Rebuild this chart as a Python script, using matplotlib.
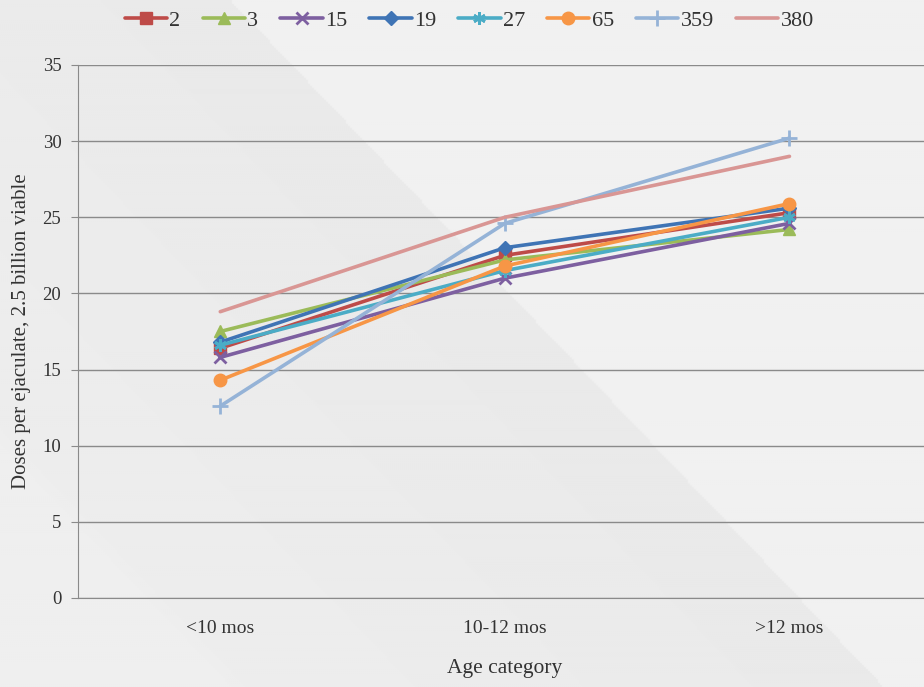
import numpy as np
import matplotlib
matplotlib.use("Agg")
import matplotlib.pyplot as plt

categories = ["<10 mos", "10-12 mos", ">12 mos"]
series_names = ["2", "3", "15", "19", "27", "65", "359", "380"]
s2 = [16.4, 22.5, 25.3]
s3 = [17.5, 22.2, 24.2]
s15 = [15.8, 21.0, 24.6]
s19 = [16.8, 23.0, 25.6]
s27 = [16.6, 21.5, 25.0]
s65 = [14.3, 21.8, 25.9]
s359 = [12.6, 24.6, 30.2]
s380 = [18.8, 25.0, 29.0]
all_series = [s2, s3, s15, s19, s27, s65, s359, s380]

colors = ["#be4b48", "#9bbb59", "#7d5fa0", "#3f74b5", "#4bacc6", "#f79646", "#95b3d7", "#d99694"]
markers = ["s", "^", "x", "D", (6, 2, 0), "o", "+", None]
msizes = [8, 8, 8, 7, 9, 9, 11, 0]

plt.rcParams["font.family"] = ["Liberation Serif", "DejaVu Serif"]

fig = plt.figure(figsize=(9.24, 6.87), dpi=100)

# soft gray background with diagonal bands
bg = fig.add_axes([0, 0, 1, 1], zorder=-10)
H, W = 687, 924
yy, xx = np.mgrid[0:H:2, 0:W:2]
t = xx - 0.95 * yy
val = np.where(t > 230, 0.945, 0.915 + 0.015 * np.clip((230 - t) / 650, 0, 1))
val = np.where(t < -420, 0.935, val)
bg.imshow(val, cmap="gray", vmin=0, vmax=1, extent=[0, 1, 0, 1], aspect="auto", origin="upper")
bg.axis("off")

ax = fig.add_axes([0.0844, 0.1296, 0.924, 0.7758])
ax.patch.set_alpha(0)
x = np.arange(len(categories))
for name, vals, c, m, ms in zip(series_names, all_series, colors, markers, msizes):
    ax.plot(x, vals, color=c, lw=2.6, marker=m, markersize=ms,
            markeredgewidth=2 if m in ("x", "+", (6, 2, 0)) else 1,
            markeredgecolor=c, markerfacecolor=c, label=name, solid_capstyle="round")

ax.set_xlim(-0.5, 2.5)
ax.set_ylim(0, 35)
ax.set_yticks(range(0, 36, 5))
ax.set_xticks(x)
ax.set_xticklabels(categories)
ax.yaxis.grid(True, color="#8a8a8a", lw=1)
ax.set_axisbelow(True)
for s in ["top", "right"]:
    ax.spines[s].set_visible(False)
ax.spines["left"].set_color("#8a8a8a")
ax.spines["bottom"].set_color("#8a8a8a")
ax.tick_params(axis="y", length=5, color="#8a8a8a", labelsize=13.5, pad=7, labelcolor="#333333")
ax.tick_params(axis="x", length=0, labelsize=14, pad=16, labelcolor="#333333")
ax.set_ylabel("Doses per ejaculate, 2.5 billion viable", fontsize=15, color="#333333", labelpad=8)
ax.set_xlabel("Age category", fontsize=15.5, color="#333333", labelpad=16)

leg = fig.legend(loc="upper center", bbox_to_anchor=(0.508, 1.014), ncol=8, frameon=False,
                 fontsize=16, handlelength=1.9, columnspacing=1.0, handletextpad=0.1)
for t in leg.get_texts():
    t.set_color("#333333")

fig.savefig("out.png", dpi=100)
